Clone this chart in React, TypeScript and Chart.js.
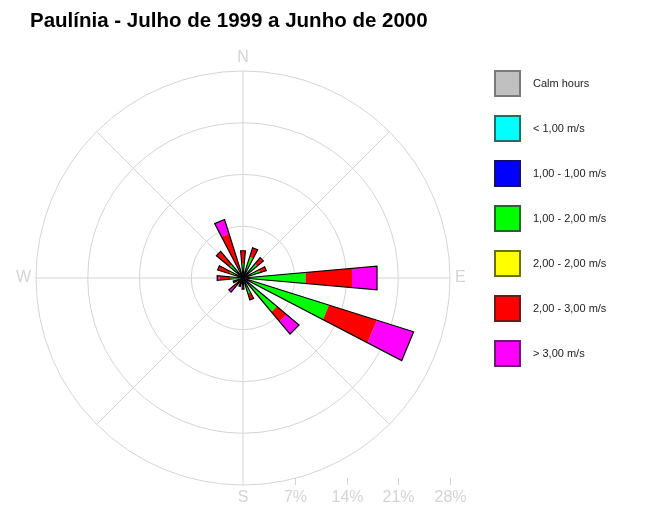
import React, { useEffect, useRef } from 'react';
import { Chart, registerables } from 'chart.js';

Chart.register(...registerables);

const chartTitle = 'Paulínia - Julho de 1999 a Junho de 2000';
const directions = ['N', 'NNE', 'NE', 'ENE', 'E', 'ESE', 'SE', 'SSE', 'S', 'SSW', 'SW', 'WSW', 'W', 'WNW', 'NW', 'NNW'];
const compassLabels = ['N', '', '', '', 'E', '', '', '', 'S', '', '', '', 'W', '', '', ''];
const speedClasses = ['Calm hours', '< 1,00 m/s', '1,00 - 1,00 m/s', '1,00 - 2,00 m/s', '2,00 - 2,00 m/s', '2,00 - 3,00 m/s', '> 3,00 m/s'];
const classColors = ['#c0c0c0', '#00ffff', '#0000ff', '#00ff00', '#ffff00', '#ff0000', '#ff00ff'];
const classBorders = ['#7a7a7a', '#1a6e6e', '#10106e', '#1a6e1a', '#6e6e1a', '#6e1a1a', '#6e1a6e'];

// percent of hours per direction (N, NNE, ... NNW)
const calmHours: number[] = [];
const below1 = [0.5, 0.5, 0.5, 0.5, 0.6, 0.6, 0.5, 0.4, 0.4, 0.3, 0.4, 0.3, 0.4, 0.4, 0.5, 0.5];
const from1to1 = [0, 0, 0, 0, 0, 0, 0, 0, 0, 0, 0, 0, 0, 0, 0, 0];
const from1to2 = [1.5, 2.5, 2.0, 1.9, 7.9, 11.6, 5.5, 1.8, 0.8, 0.6, 0.8, 0.7, 1.3, 1.5, 1.9, 0.8];
const from2to2 = [0, 0, 0, 0, 0, 0, 0, 0, 0, 0, 0, 0, 0, 0, 0, 0];
const from2to3 = [1.7, 1.3, 1.0, 0.9, 6.3, 6.8, 1.7, 0.9, 0.3, 0.3, 0.5, 0.4, 1.5, 1.7, 2.3, 5.0];
const above3 = [0, 0, 0.1, 0, 3.4, 5.2, 2.2, 0, 0, 0, 0.8, 0, 0.3, 0, 0, 2.0];

const radialTicks = [7, 14, 21, 28];
const radialMax = 28;

const series = [calmHours, below1, from1to1, from1to2, from2to2, from2to3, above3];

const FONT = '"Liberation Sans", Arial, Helvetica, sans-serif';
const HALF = (5 * Math.PI) / 180;
const AXIS_GRAY = '#d4d4d4';

const windRosePlugin = {
  id: 'windRose',
  afterDatasetsDraw(chart: any) {
    const scale = chart.scales.r;
    const ctx = chart.ctx;
    ctx.save();
    for (let i = 0; i < directions.length; i++) {
      let cum = 0;
      for (let k = 1; k < chart.data.datasets.length; k++) {
        const ds = chart.data.datasets[k];
        const v = Number(ds.data[i] || 0);
        if (!v) continue;
        const r0 = scale.getDistanceFromCenterForValue(cum);
        cum += v;
        const r1 = scale.getDistanceFromCenterForValue(cum);
        const a = scale.getPointPosition(i, r0, -HALF);
        const b = scale.getPointPosition(i, r1, -HALF);
        const c = scale.getPointPosition(i, r1, HALF);
        const d = scale.getPointPosition(i, r0, HALF);
        ctx.beginPath();
        ctx.moveTo(a.x, a.y);
        ctx.lineTo(b.x, b.y);
        ctx.lineTo(c.x, c.y);
        ctx.lineTo(d.x, d.y);
        ctx.closePath();
        ctx.fillStyle = ds.backgroundColor;
        ctx.fill();
      }
      if (cum > 0) {
        const rr = scale.getDistanceFromCenterForValue(cum);
        const p = scale.getPointPosition(i, rr, -HALF);
        const q = scale.getPointPosition(i, rr, HALF);
        ctx.beginPath();
        ctx.moveTo(scale.xCenter, scale.yCenter);
        ctx.lineTo(p.x, p.y);
        ctx.lineTo(q.x, q.y);
        ctx.closePath();
        ctx.strokeStyle = '#000';
        ctx.lineWidth = 1.2;
        ctx.stroke();
      }
    }
    ctx.restore();
  },
  afterDraw(chart: any) {
    const ctx = chart.ctx;
    const scale = chart.scales.r;
    ctx.save();
    // title
    ctx.fillStyle = '#000';
    ctx.font = `bold 20.5px ${FONT}`;
    ctx.textAlign = 'left';
    ctx.textBaseline = 'alphabetic';
    ctx.fillText(chartTitle, 30, 27);

    // radial tick labels along the bottom
    const yBottom = scale.yCenter + scale.drawingArea;
    ctx.strokeStyle = AXIS_GRAY;
    ctx.lineWidth = 1;
    ctx.fillStyle = AXIS_GRAY;
    ctx.font = `16px ${FONT}`;
    ctx.textAlign = 'center';
    ctx.textBaseline = 'middle';
    radialTicks.forEach((t) => {
      const x = Math.round(scale.xCenter + scale.getDistanceFromCenterForValue(t)) + 0.5;
      ctx.beginPath();
      ctx.moveTo(x, yBottom - 7);
      ctx.lineTo(x, yBottom);
      ctx.stroke();
      ctx.fillText(t + '%', x, yBottom + 13);
    });

    // legend
    chart.data.datasets.forEach((ds: any, k: number) => {
      const x = 494;
      const y = 70 + 45 * k;
      ctx.fillStyle = ds.backgroundColor;
      ctx.fillRect(x, y, 27, 27);
      ctx.strokeStyle = ds.borderColor;
      ctx.lineWidth = 2;
      ctx.strokeRect(x + 1, y + 1, 25, 25);
      ctx.fillStyle = '#222';
      ctx.font = `11px ${FONT}`;
      ctx.textAlign = 'left';
      ctx.textBaseline = 'middle';
      ctx.fillText(ds.label, 533, y + 14);
    });
    ctx.restore();
  },
};

export default function App() {
  const canvasRef = useRef<HTMLCanvasElement | null>(null);

  useEffect(() => {
    if (!canvasRef.current) return;
    const chart = new Chart(canvasRef.current, {
      type: 'radar',
      data: {
        labels: directions,
        datasets: speedClasses.map((label, k) => ({
          label,
          data: series[k],
          backgroundColor: classColors[k],
          borderColor: classBorders[k],
          borderWidth: 0,
          showLine: false,
          pointRadius: 0,
          pointHoverRadius: 0,
          pointHitRadius: 0,
          fill: false,
        })),
      },
      options: {
        animation: false,
        responsive: true,
        maintainAspectRatio: false,
        events: [],
        layout: { padding: { left: 6, top: 50, right: 176, bottom: 0 } },
        plugins: {
          legend: { display: false },
          title: { display: false },
          tooltip: { enabled: false },
        },
        scales: {
          r: {
            min: 0,
            max: radialMax,
            startAngle: 0,
            ticks: { display: false, stepSize: 7 },
            grid: { circular: true, color: AXIS_GRAY, lineWidth: 1 },
            angleLines: {
              display: true,
              color: AXIS_GRAY,
              lineWidth: (c: any) => (c.index % 2 === 0 ? 1 : 0),
            },
            pointLabels: {
              display: true,
              color: AXIS_GRAY,
              padding: 5,
              font: { family: FONT, size: 16, lineHeight: 1 },
              callback: (_l: string, i: number) => compassLabels[i],
            },
          },
        },
      },
      plugins: [windRosePlugin],
    });
    return () => chart.destroy();
  }, []);

  return (
    <div style={{ position: 'fixed', left: 0, top: 0, width: 652, height: 506, background: '#fff' }}>
      <canvas ref={canvasRef} />
    </div>
  );
}
